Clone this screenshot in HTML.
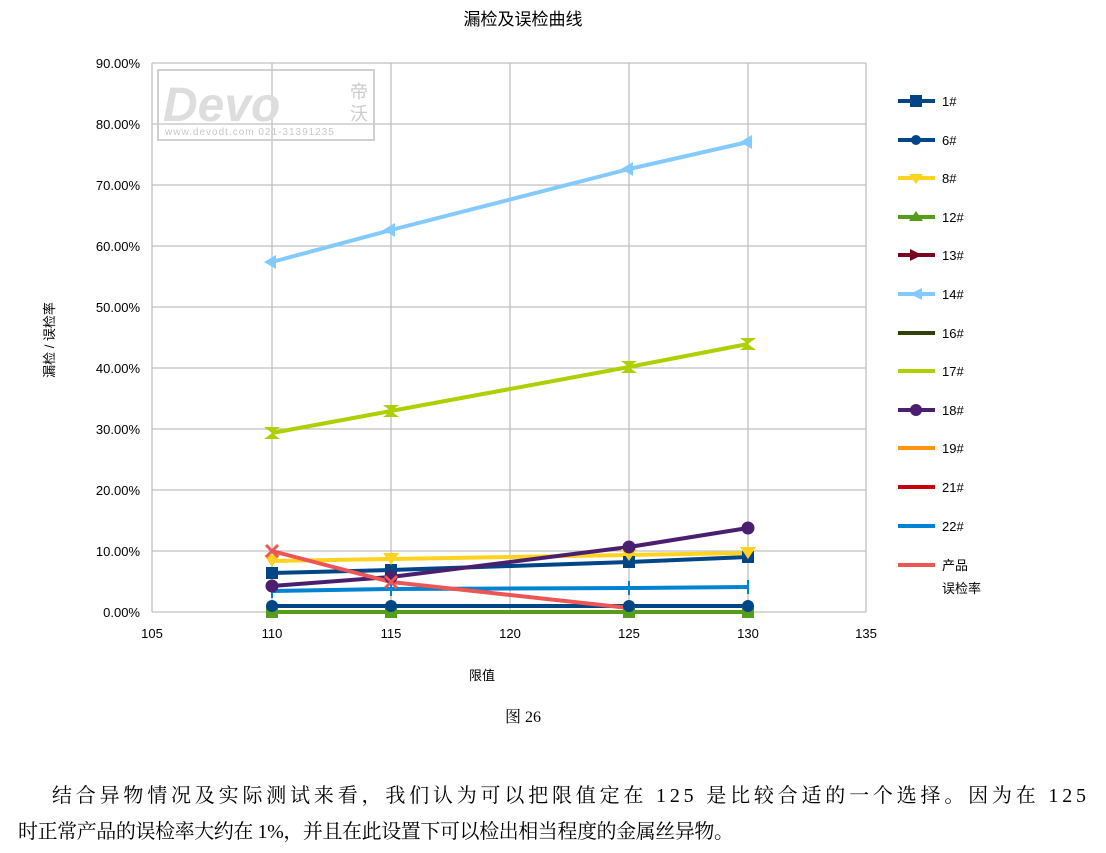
<!DOCTYPE html>
<html><head><meta charset="utf-8"><style>
body{margin:0;background:#fff;width:1106px;height:853px;overflow:hidden;font-family:"Liberation Sans","Noto Sans CJK SC",sans-serif}
</style></head><body>
<svg width="1106" height="853" xmlns="http://www.w3.org/2000/svg" style="position:absolute;left:0;top:0">
<text x="523" y="25" font-size="17" text-anchor="middle" font-family="Liberation Sans,Noto Sans CJK SC,sans-serif">漏检及误检曲线</text>
<g stroke="#c0c0c0" stroke-width="1.3">
<line x1="152" y1="63" x2="866" y2="63"/><line x1="152" y1="124" x2="866" y2="124"/><line x1="152" y1="185" x2="866" y2="185"/><line x1="152" y1="246" x2="866" y2="246"/><line x1="152" y1="307" x2="866" y2="307"/><line x1="152" y1="368" x2="866" y2="368"/><line x1="152" y1="429" x2="866" y2="429"/><line x1="152" y1="490" x2="866" y2="490"/><line x1="152" y1="551" x2="866" y2="551"/><line x1="152" y1="612" x2="866" y2="612"/>
<line x1="152" y1="63" x2="152" y2="612"/><line x1="272" y1="63" x2="272" y2="612"/><line x1="391" y1="63" x2="391" y2="612"/><line x1="510" y1="63" x2="510" y2="612"/><line x1="629" y1="63" x2="629" y2="612"/><line x1="748" y1="63" x2="748" y2="612"/><line x1="866" y1="63" x2="866" y2="612"/>
</g>
<g fill="#ddd" stroke="#ccc">
<rect x="158" y="70" width="216" height="70" fill="none" stroke="#d0d0d0" stroke-width="2"/>
<text x="163" y="121" font-size="48" font-weight="bold" font-style="italic" stroke="none" fill="#ddd">Devo</text>
<text x="350" y="98" font-size="18" stroke="none" fill="#ccc">帝</text><text x="350" y="120" font-size="18" stroke="none" fill="#ccc">沃</text>
<text x="165" y="135" font-size="10" stroke="none" fill="#c8c8c8" letter-spacing="1">www.devodt.com  021-31391235</text>
</g>
<g font-size="13" text-anchor="end" fill="#000">
<text x="140" y="68">90.00%</text><text x="140" y="129">80.00%</text><text x="140" y="190">70.00%</text><text x="140" y="251">60.00%</text><text x="140" y="312">50.00%</text><text x="140" y="373">40.00%</text><text x="140" y="434">30.00%</text><text x="140" y="495">20.00%</text><text x="140" y="556">10.00%</text><text x="140" y="617">0.00%</text>
</g>
<g font-size="13" text-anchor="middle">
<text x="152" y="638">105</text><text x="272" y="638">110</text><text x="391" y="638">115</text><text x="510" y="638">120</text><text x="629" y="638">125</text><text x="748" y="638">130</text><text x="866" y="638">135</text>
</g>
<text x="482" y="680" font-size="13" text-anchor="middle">限值</text>
<text transform="translate(54,340) rotate(-90)" font-size="13" text-anchor="middle">漏检 / 误检率</text>
<g fill="none" stroke-width="4" stroke-linejoin="round">
<polyline stroke="#729fcf" points="272,612 391,612 629,612 748,612"/>
<polyline stroke="#579d1c" points="272,612 391,612 629,612 748,612"/>
<polyline stroke="#004586" points="272,606 391,606 629,606 748,606"/>
<polyline stroke="#0084d1" points="272,591 391,589 629,588 748,587"/>
<polyline stroke="#ffd320" points="272,561 391,559 629,555 748,553"/>
<polyline stroke="#004586" points="272,573 391,570 629,562 748,557"/>
<polyline stroke="#4b1f6f" points="272,586 391,577 629,547 748,528"/>
<polyline stroke="#ee5555" points="272,551 391,582 629,608"/>
<polyline stroke="#aecf00" points="272,433 391,411 629,367 748,344"/>
<polyline stroke="#83caff" points="272,262 391,230 629,169 748,142"/>
</g>
<g stroke="#0084d1" stroke-width="2"><path d="M272,584v14M391,582v14M629,581v14M748,580v14"/></g>
<g fill="#579d1c"><rect x="266" y="606" width="12" height="12"/><rect x="385" y="606" width="12" height="12"/><rect x="623" y="606" width="12" height="12"/><rect x="742" y="606" width="12" height="12"/></g>
<g fill="#004586"><circle cx="272" cy="606" r="6"/><circle cx="391" cy="606" r="6"/><circle cx="629" cy="606" r="6"/><circle cx="748" cy="606" r="6"/>
<rect x="266" y="567" width="12" height="12"/><rect x="385" y="564" width="12" height="12"/><rect x="623" y="556" width="12" height="12"/><rect x="742" y="551" width="12" height="12"/></g>
<g fill="#ffd320"><path d="M264,555h16l-8,12z M383,553h16l-8,12z M621,549h16l-8,12z M740,547h16l-8,12z"/></g>
<g fill="#4b1f6f"><circle cx="272" cy="586" r="6.5"/><circle cx="391" cy="577" r="6.5"/><circle cx="629" cy="547" r="6.5"/><circle cx="748" cy="528" r="6.5"/></g>
<g stroke="#ee5555" stroke-width="3"><path d="M266,545l12,12M278,545l-12,12M385,576l12,12M397,576l-12,12"/></g>
<g fill="#aecf00"><path d="M264,427h16l-16,12h16z M383,405h16l-16,12h16z M621,361h16l-16,12h16z M740,338h16l-16,12h16z"/></g>
<g fill="#83caff"><path d="M264,262l12,-7v14z M383,230l12,-7v14z M621,169l12,-7v14z M740,142l12,-7v14z"/></g>
<g font-size="13">
<g stroke-width="4">
<line x1="898" y1="101" x2="935" y2="101" stroke="#004586"/><rect x="910" y="95" width="12" height="12" fill="#004586"/>
<line x1="898" y1="140" x2="935" y2="140" stroke="#004586"/><circle cx="916" cy="140" r="5" fill="#004586"/>
<line x1="898" y1="178" x2="935" y2="178" stroke="#ffd320"/><path d="M909,174h14l-7,10z" fill="#ffd320"/>
<line x1="898" y1="217" x2="935" y2="217" stroke="#579d1c"/><path d="M909,221h14l-7,-10z" fill="#579d1c"/>
<line x1="898" y1="255" x2="935" y2="255" stroke="#7e0021"/><path d="M910,249l12,6l-12,6z" fill="#7e0021"/>
<line x1="898" y1="294" x2="935" y2="294" stroke="#83caff"/><path d="M910,294l12,-6v12z" fill="#83caff"/>
<line x1="898" y1="333" x2="935" y2="333" stroke="#314004"/>
<line x1="898" y1="371" x2="935" y2="371" stroke="#aecf00"/>
<line x1="898" y1="410" x2="935" y2="410" stroke="#4b1f6f"/><circle cx="916" cy="410" r="6" fill="#4b1f6f"/>
<line x1="898" y1="448" x2="935" y2="448" stroke="#ff950e"/>
<line x1="898" y1="487" x2="935" y2="487" stroke="#c5000b"/>
<line x1="898" y1="526" x2="935" y2="526" stroke="#0084d1"/>
<line x1="898" y1="565" x2="935" y2="565" stroke="#ee5555"/>
</g>
<text x="942" y="106">1#</text><text x="942" y="145">6#</text><text x="942" y="183">8#</text><text x="942" y="222">12#</text><text x="942" y="260">13#</text><text x="942" y="299">14#</text><text x="942" y="338">16#</text><text x="942" y="376">17#</text><text x="942" y="415">18#</text><text x="942" y="453">19#</text><text x="942" y="492">21#</text><text x="942" y="531">22#</text><text x="942" y="570">产品</text><text x="942" y="593">误检率</text>
</g>
<text x="523" y="722" font-size="16" text-anchor="middle" font-family="Liberation Serif,Noto Serif CJK SC,serif">图  26</text>
<text x="52" y="802" font-size="20" textLength="1034" lengthAdjust="spacing" font-family="Liberation Serif,Noto Serif CJK SC,serif">结合异物情况及实际测试来看，我们认为可以把限值定在 125 是比较合适的一个选择。因为在 125</text>
<text x="18" y="838" font-size="20" textLength="716" lengthAdjust="spacing" font-family="Liberation Serif,Noto Serif CJK SC,serif">时正常产品的误检率大约在 1%，并且在此设置下可以检出相当程度的金属丝异物。</text>
</svg>
</body></html>
